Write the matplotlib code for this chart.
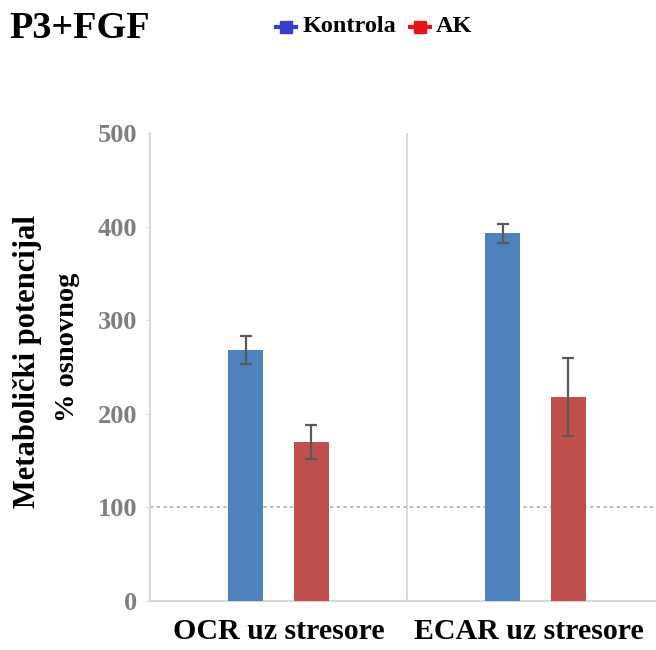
import matplotlib
matplotlib.use("Agg")
import matplotlib.pyplot as plt
import matplotlib.transforms as mtransforms
import numpy as np

# Data
categories = ["OCR uz stresore", "ECAR uz stresore"]
series_names = ["Kontrola", "AK"]
kontrola = [268, 393]
kontrola_err = [15, 10]
ak = [170, 218]
ak_err = [18, 42]
baseline = 100
yticks = [0, 100, 200, 300, 400, 500]

colors = ["#4f81bd", "#c0504d"]
legend_colors = ["#3a3fcf", "#e8141c"]
serif = ["Liberation Serif", "DejaVu Serif"]

fig = plt.figure(figsize=(6.56, 6.50), dpi=100)
ax = fig.add_axes([150 / 656, 49 / 650, 514 / 656, 468 / 650])

x = np.arange(len(categories))
off = 0.128
w = 0.136
err_kw = dict(ecolor="#595959", elinewidth=1.6, capsize=4, capthick=1.6)
ax.bar(x - off, kontrola, w, yerr=kontrola_err, color=colors[0], error_kw=err_kw, zorder=3)
ax.bar(x + off, ak, w, yerr=ak_err, color=colors[1], error_kw=err_kw, zorder=3)

ax.axhline(baseline, color="#b0b0b0", lw=1.2, ls=(0, (2, 2)), zorder=2)
ax.axvline(0.5, color="#d4d4d4", lw=1.2, zorder=1)

ax.set_xlim(-0.5, 1.5)
ax.set_ylim(0, 500)
ax.set_yticks(yticks)
ax.set_yticklabels([str(t) for t in yticks], fontfamily=serif, fontweight="bold",
                   fontsize=19, color="#7f7f7f")
ax.tick_params(axis="y", length=3, color="#dddddd", pad=6)
ax.set_xticks(x)
ax.set_xticklabels(categories, fontfamily=serif, fontweight="bold", fontsize=21.5, color="black")
ax.tick_params(axis="x", length=0, pad=12)
# nudge the second category label slightly left
lbl = ax.get_xticklabels()[1]
lbl.set_transform(lbl.get_transform() + mtransforms.ScaledTranslation(-0.07, 0, fig.dpi_scale_trans))

for s in ["top", "right"]:
    ax.spines[s].set_visible(False)
for s in ["left", "bottom"]:
    ax.spines[s].set_color("#d9d9d9")
    ax.spines[s].set_linewidth(1.5)

fig.text(9 / 656, 1 - 28 / 650, "P3+FGF", fontfamily=serif, fontweight="bold",
         fontsize=27.5, va="center", ha="left")

# Legend: short line with a square marker in the middle, then the label
ly = 1 - 27 / 650
legend_items = [(276, 303), (410, 436)]
for name, c, (mx, tx) in zip(series_names, legend_colors, legend_items):
    xs = [mx / 656, (mx + 10) / 656, (mx + 20) / 656]
    fig.lines.append(plt.Line2D(xs, [ly] * 3, transform=fig.transFigure,
                                color=c, lw=3, marker="s", markersize=9, markevery=[1]))
    fig.text(tx / 656, ly, name, fontfamily=serif, fontweight="bold",
             fontsize=17.5, va="center", ha="left")

fig.text(28 / 656, 1 - 362 / 650, "Metabolički potencijal", rotation=90, fontfamily=serif,
         fontweight="bold", fontsize=22, va="center", ha="center")
fig.text(67 / 656, 1 - 347 / 650, "% osnovnog", rotation=90, fontfamily=serif,
         fontweight="bold", fontsize=20.5, va="center", ha="center")

fig.savefig("out.png", dpi=100)
